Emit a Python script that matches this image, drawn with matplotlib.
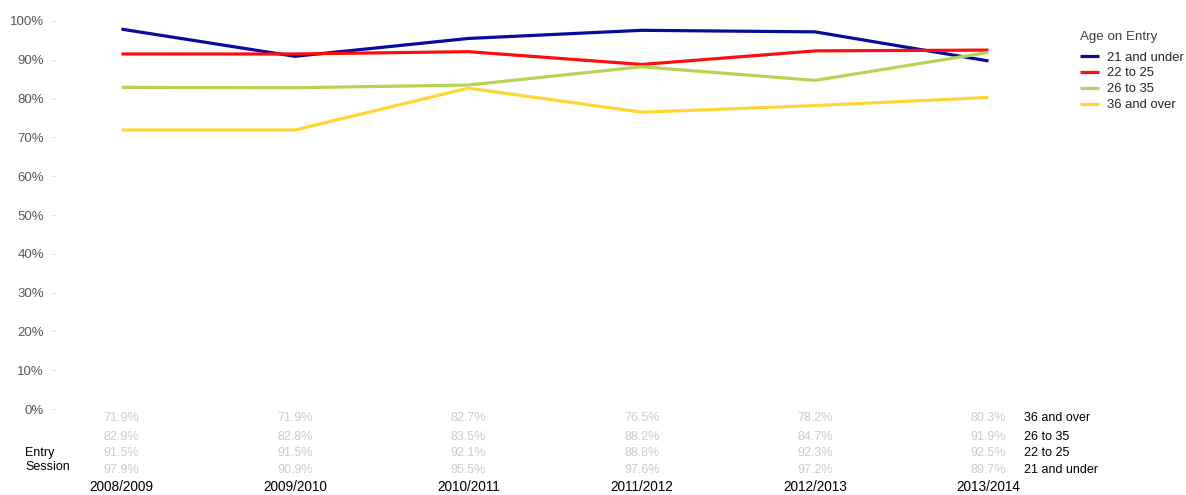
import matplotlib
matplotlib.use("Agg")
import matplotlib.pyplot as plt
from matplotlib.transforms import blended_transform_factory
from matplotlib.ticker import PercentFormatter

plt.rcParams['font.family'] = ['Liberation Sans', 'DejaVu Sans']

# data
sessions = ['2008/2009', '2009/2010', '2010/2011', '2011/2012', '2012/2013', '2013/2014']
age_groups = ['21 and under', '22 to 25', '26 to 35', '36 and over']
u21 = [97.9, 90.9, 95.5, 97.6, 97.2, 89.7]
a22_25 = [91.5, 91.5, 92.1, 88.8, 92.3, 92.5]
a26_35 = [82.9, 82.8, 83.5, 88.2, 84.7, 91.9]
o36 = [71.9, 71.9, 82.7, 76.5, 78.2, 80.3]
colors = ['#0a0a9c', '#ff0d0d', '#b5d453', '#ffd633']

series = [u21, a22_25, a26_35, o36]

W, H = 1186, 495
fig = plt.figure(figsize=(W / 100, H / 100), dpi=100)

# axes placed in pixels
left, right, top, bottom = 55, 1050, 21, 409
ax = fig.add_axes([left / W, 1 - bottom / H, (right - left) / W, (bottom - top) / H])

x = list(range(len(sessions)))
for vals, c, name in zip(series, colors, age_groups):
    ax.plot(x, vals, color=c, lw=2.3, label=name, solid_capstyle='butt')

# first category at px 121.5, step 173.4 px
x0px, step = 121.5, 173.4
ax.set_xlim((left - x0px) / step, (right - x0px) / step)
ax.set_ylim(0, 100)
ax.set_yticks(range(0, 101, 10))
ax.yaxis.set_major_formatter(PercentFormatter(decimals=0))
ax.tick_params(axis='y', length=2, color='#d9d9d9', pad=6, labelsize=9.5, labelcolor='#595959')
ax.set_xticks([])
for s in ax.spines.values():
    s.set_visible(False)

leg = ax.legend(title='Age on Entry', loc='upper left', bbox_to_anchor=(1075 / W, 1 - 26 / H),
                bbox_transform=fig.transFigure, frameon=False, fontsize=9.4, title_fontsize=9.6,
                handlelength=1.45, handletextpad=0.6, labelspacing=0.28, borderaxespad=0)
leg._legend_box.align = 'left'
leg._legend_box.sep = 6
leg.get_title().set_color('#404040')
for t in leg.get_texts():
    t.set_color('#262626')

# table underneath
tr = blended_transform_factory(ax.transData, fig.transFigure)
row_y = [470, 453, 437, 418]  # same order as age_groups
for vals, ypx in zip(series, row_y):
    for i, v in enumerate(vals):
        ax.text(i, 1 - ypx / H, f'{v:.1f}%', transform=tr, ha='center', va='center',
                fontsize=9, color='#cccccc')
for name, ypx in zip(age_groups, row_y):
    fig.text(1024 / W, 1 - ypx / H, name, ha='left', va='center', fontsize=9, color='black')
for i, s in enumerate(sessions):
    ax.text(i, 1 - 487 / H, s, transform=tr, ha='center', va='center', fontsize=9.8, color='black')
fig.text(25 / W, 1 - 453 / H, 'Entry', ha='left', va='center', fontsize=9, color='black')
fig.text(25 / W, 1 - 467 / H, 'Session', ha='left', va='center', fontsize=9, color='black')

fig.savefig('out.png', dpi=100)
